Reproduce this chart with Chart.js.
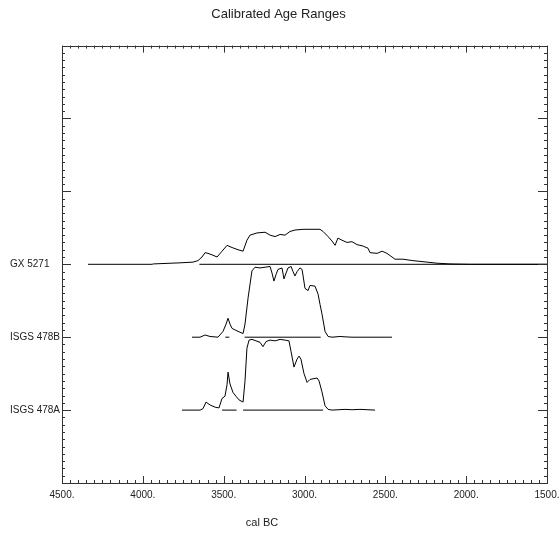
<!DOCTYPE html>
<html>
<head>
<meta charset="utf-8">
<title>Calibrated Age Ranges</title>
<script src="https://cdn.jsdelivr.net/npm/chart.js@4/dist/chart.umd.min.js"></script>
<style>
  html, body { margin: 0; padding: 0; background: #fff; }
</style>
</head>
<body>
<canvas id="chart" width="560" height="535"></canvas>
<script>
'use strict';

/* 시료 이름 (y = 1, 2, 3) */
const SAMPLE_NAMES  = ['ISGS 478A', 'ISGS 478B', 'GX 5271'];
const SAMPLE_LEVELS = [1, 2, 3];

/* x축 눈금 (cal BC) */
const X_TICKS = [4500, 4000, 3500, 3000, 2500, 2000, 1500];

/* ── ISGS 478A 확률 곡선 ── */
const YEARS_478A = [3758, 3646, 3628, 3609, 3584, 3553, 3529, 3510, 3492, 3479, 3473, 3461,
  3442, 3424, 3405, 3380, 3368, 3356, 3343, 3325, 3300, 3275, 3257, 3238, 3213, 3182, 3151,
  3120, 3096, 3083, 3065, 3046, 3034, 3022, 3003, 2984, 2966, 2947, 2922, 2910, 2892, 2873,
  2854, 2830, 2749, 2706, 2657, 2564];
const DENS_478A  = [0, 0, 0.02, 0.11, 0.07, 0.04, 0.03, 0.16, 0.19, 0.35, 0.52, 0.36,
  0.24, 0.19, 0.14, 0.11, 0.40, 0.85, 0.96, 0.97, 0.95, 0.93, 0.87, 0.94, 0.96, 0.95, 0.97,
  0.96, 0.95, 0.80, 0.59, 0.70, 0.74, 0.70, 0.50, 0.38, 0.42, 0.43, 0.44, 0.40, 0.25, 0.06,
  0.01, 0, 0.01, 0.005, 0.01, 0];
const RANGES_478A = [[3510, 3420], [3380, 2885]];

/* ── ISGS 478B 확률 곡선 ── */
const YEARS_478B = [3696, 3646, 3615, 3584, 3535, 3504, 3485, 3473, 3461, 3448, 3411, 3380,
  3368, 3349, 3325, 3306, 3275, 3244, 3213, 3201, 3189, 3176, 3164, 3139, 3127, 3114, 3102,
  3083, 3071, 3059, 3046, 3028, 3015, 2997, 2978, 2966, 2935, 2916, 2904, 2892, 2873, 2854,
  2830, 2780, 2749, 2706, 2459];
const DENS_478B  = [0, 0, 0.03, 0.01, 0, 0.08, 0.18, 0.26, 0.18, 0.12, 0.08, 0.05,
  0.18, 0.54, 0.91, 0.96, 0.95, 0.96, 0.97, 0.88, 0.77, 0.86, 0.93, 0.95, 0.80, 0.88, 0.95,
  0.97, 0.90, 0.84, 0.90, 0.95, 0.93, 0.67, 0.64, 0.71, 0.70, 0.59, 0.45, 0.32, 0.08, 0.01,
  0, 0.01, 0.005, 0, 0];
const RANGES_478B = [[3490, 3465], [3370, 2900]];

/* ── GX 5271 확률 곡선 ── */
const YEARS_GX = [4339, 3943, 3935, 3770, 3690, 3659, 3634, 3615, 3597, 3572, 3541, 3510,
  3479, 3448, 3411, 3380, 3356, 3337, 3294, 3244, 3213, 3182, 3151, 3120, 3090, 3059, 3009,
  2904, 2885, 2854, 2830, 2811, 2793, 2768, 2737, 2706, 2675, 2638, 2607, 2595, 2551, 2520,
  2490, 2471, 2440, 2391, 2329, 2242, 2180, 2100, 1976, 1500];
const DENS_GX  = [0, 0, 0.005, 0.02, 0.03, 0.05, 0.10, 0.16, 0.15, 0.13, 0.10, 0.18,
  0.26, 0.23, 0.20, 0.18, 0.33, 0.40, 0.43, 0.44, 0.40, 0.38, 0.41, 0.40, 0.45, 0.47, 0.48,
  0.48, 0.45, 0.38, 0.32, 0.26, 0.36, 0.33, 0.30, 0.31, 0.27, 0.25, 0.22, 0.16, 0.15, 0.18,
  0.15, 0.12, 0.07, 0.07, 0.05, 0.03, 0.015, 0.005, 0, 0];
const RANGES_GX = [[3650, 1500]];

const INK = '#000';

function curvePoints(years, dens, level) {
  return years.map((yr, i) => ({ x: yr, y: level + dens[i] }));
}

function rangePoints(ranges, level) {
  const pts = [];
  ranges.forEach(([a, b]) => {
    pts.push({ x: a, y: level }, { x: b, y: level }, { x: b, y: null });
  });
  return pts;
}

function lineSet(data) {
  return {
    data,
    borderColor: INK,
    borderWidth: 1,
    pointRadius: 0,
    tension: 0,
    spanGaps: false,
    fill: false,
  };
}

/* ── 안쪽 눈금, 테두리, x축 제목 ── */
const frame = {
  id: 'frame',
  afterDraw(chart) {
    const { ctx, chartArea: a } = chart;
    const xs = chart.scales.x, ys = chart.scales.y;
    ctx.save();
    ctx.strokeStyle = '#333';
    ctx.lineWidth = 1;
    ctx.strokeRect(Math.round(a.left) + 0.5, Math.round(a.top) + 0.5,
      Math.round(a.right - a.left), Math.round(a.bottom - a.top));

    ctx.beginPath();
    for (let i = 0; i <= 60; i++) {
      const px = Math.round(xs.getPixelForValue(1500 + i * 50)) + 0.5;
      const len = i % 10 === 0 ? 7 : 3;
      ctx.moveTo(px, a.bottom); ctx.lineTo(px, a.bottom - len);
      ctx.moveTo(px, a.top);    ctx.lineTo(px, a.top + len);
    }
    for (let i = 0; i <= 60; i++) {
      const py = Math.round(ys.getPixelForValue(i / 10)) + 0.5;
      const len = i % 10 === 0 ? 9 : 3;
      ctx.moveTo(a.left, py);  ctx.lineTo(a.left + len, py);
      ctx.moveTo(a.right, py); ctx.lineTo(a.right - len, py);
    }
    ctx.stroke();

    ctx.fillStyle = '#222';
    ctx.font = "11px 'Liberation Sans', sans-serif";
    ctx.textAlign = 'center';
    ctx.textBaseline = 'middle';
    ctx.fillText('cal BC', 262, 523);
    ctx.restore();
  },
};

Chart.defaults.font.family = "'Liberation Sans', sans-serif";
Chart.defaults.color = '#222';

new Chart(document.getElementById('chart'), {
  type: 'line',
  data: {
    datasets: [
      lineSet(curvePoints(YEARS_478A, DENS_478A, SAMPLE_LEVELS[0])),
      lineSet(rangePoints(RANGES_478A, SAMPLE_LEVELS[0])),
      lineSet(curvePoints(YEARS_478B, DENS_478B, SAMPLE_LEVELS[1])),
      lineSet(rangePoints(RANGES_478B, SAMPLE_LEVELS[1])),
      lineSet(curvePoints(YEARS_GX, DENS_GX, SAMPLE_LEVELS[2])),
      lineSet(rangePoints(RANGES_GX, SAMPLE_LEVELS[2])),
    ],
  },
  options: {
    responsive: false,
    animation: false,
    layout: { padding: { left: 10, right: 13, top: 0, bottom: 0 } },
    plugins: {
      legend: { display: false },
      tooltip: { enabled: false },
      title: {
        display: true,
        text: 'Calibrated Age Ranges',
        font: { size: 13, weight: 'normal' },
        color: '#222',
        padding: { top: 7, bottom: 23 },
      },
    },
    scales: {
      x: {
        type: 'linear',
        reverse: true,
        min: 1500, max: 4500,
        afterBuildTicks: s => { s.ticks = X_TICKS.map(v => ({ value: v })); },
        ticks: { callback: v => v + '.', font: { size: 10 }, padding: 6, maxRotation: 0 },
        grid: { display: false, drawTicks: false },
        border: { display: false },
        afterFit: s => { s.height = 52; s.paddingRight = 0; s.paddingLeft = 0; },
      },
      y: {
        type: 'linear',
        min: 0, max: 6,
        ticks: {
          stepSize: 1,
          crossAlign: 'far',
          font: { size: 10 },
          callback: v => {
            const i = SAMPLE_LEVELS.indexOf(v);
            return i >= 0 ? SAMPLE_NAMES[i] : '';
          },
        },
        grid: { display: false, drawTicks: false },
        border: { display: false },
        afterFit: s => { s.width = 52; },
      },
    },
  },
  plugins: [frame],
});
</script>
</body>
</html>
